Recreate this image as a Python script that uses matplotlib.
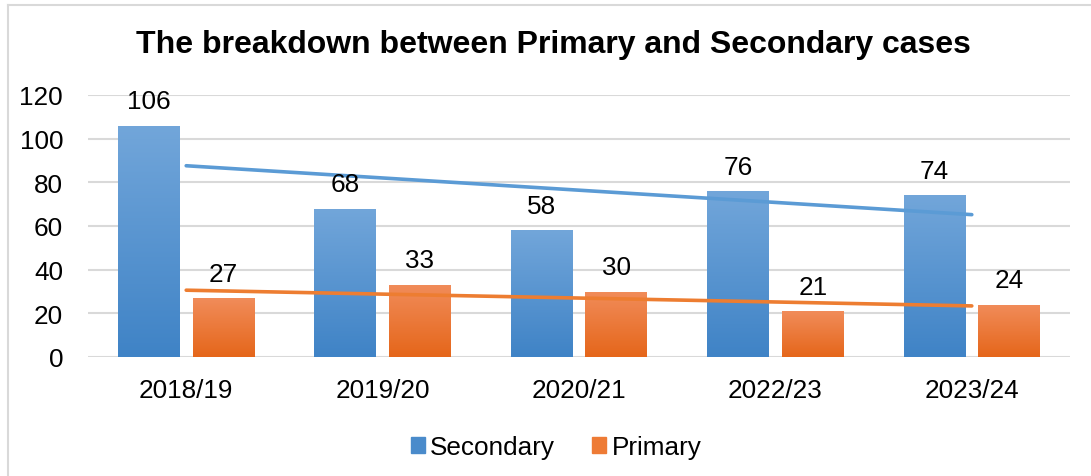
import numpy as np
import matplotlib
matplotlib.use("Agg")
import matplotlib.pyplot as plt
from matplotlib.colors import LinearSegmentedColormap
from matplotlib.patches import Rectangle
from matplotlib.lines import Line2D

categories = ["2018/19", "2019/20", "2020/21", "2022/23", "2023/24"]
secondary = [106, 68, 58, 76, 74]
primary = [27, 33, 30, 21, 24]
title = "The breakdown between Primary and Secondary cases"
yticks = [0, 20, 40, 60, 80, 100, 120]

plt.rcParams['font.family'] = ['Liberation Sans', 'DejaVu Sans']

W, H = 1091, 477
FS = 18.8
fig = plt.figure(figsize=(W / 100, H / 100), dpi=100)
ax = fig.add_axes([88 / W, 1 - 358 / H, (1070 - 88) / W, (358 - 96) / H])

# outer chart border
fig.add_artist(Line2D([7.5 / W, 7.5 / W], [0, 1 - 5.5 / H], transform=fig.transFigure,
                      color='#d9d9d9', lw=1.5))
fig.add_artist(Line2D([7.5 / W, 1], [1 - 5.5 / H, 1 - 5.5 / H], transform=fig.transFigure,
                      color='#d9d9d9', lw=1.5))

x = np.arange(len(categories))
off = 0.19
bw = 0.315

blue_cmap = LinearSegmentedColormap.from_list('b', ['#3f83c6', '#72a6da'])
orange_cmap = LinearSegmentedColormap.from_list('o', ['#e5661a', '#f18c5a'])
grad = np.linspace(0, 1, 256).reshape(-1, 1)

def gbars(xs, vals, cmap):
    bars = ax.bar(xs, vals, width=bw, color='none', edgecolor='none', zorder=3)
    for b in bars:
        bx, by = b.get_x(), b.get_y()
        w, h = b.get_width(), b.get_height()
        im = ax.imshow(grad, cmap=cmap, aspect='auto', origin='lower',
                       extent=[bx, bx + w, by, by + h], zorder=3)
        im.set_clip_path(b)
    return bars

gbars(x - off, secondary, blue_cmap)
gbars(x + off, primary, orange_cmap)
ax.set_xlim(-0.5, len(categories) - 0.5)
ax.set_ylim(0, 120)

for xi, v in zip(x - off, secondary):
    ax.annotate(str(v), (xi, v), xytext=(0, 9), textcoords='offset points',
                ha='center', va='bottom', fontsize=FS, color='black', zorder=5)
for xi, v in zip(x + off, primary):
    ax.annotate(str(v), (xi, v), xytext=(0, 9), textcoords='offset points',
                ha='center', va='bottom', fontsize=FS, color='black', zorder=5)

# linear trendlines
for vals, col in [(secondary, '#5b9bd5'), (primary, '#ed7d31')]:
    k, b0 = np.polyfit(x, vals, 1)
    ax.plot([x[0], x[-1]], [b0 + k * x[0], b0 + k * x[-1]], color=col, lw=2.6,
            zorder=4, solid_capstyle='round')

ax.set_yticks(yticks)
ax.set_xticks(x)
ax.set_xticklabels(categories)
ax.tick_params(axis='both', length=0, labelsize=FS, colors='black')
ax.tick_params(axis='y', pad=18)
ax.tick_params(axis='x', pad=15)
ax.grid(axis='y', color='#d9d9d9', lw=1.5, zorder=0)
for s in ax.spines.values():
    s.set_visible(False)

fig.text(553 / W, 1 - 45 / H, title, ha='center', va='center', fontsize=23,
         fontweight='bold')

handles = [Rectangle((0, 0), 1, 1, color='#4a8bcb'), Rectangle((0, 0), 1, 1, color='#ee7b35')]
fig.legend(handles, ['Secondary', 'Primary'], loc='center', bbox_to_anchor=(556 / W, 1 - 448 / H),
           ncol=2, frameon=False, fontsize=FS, handlelength=0.55, handleheight=0.55,
           handletextpad=0.2, columnspacing=1.4)

fig.savefig('out.png', dpi=100)
